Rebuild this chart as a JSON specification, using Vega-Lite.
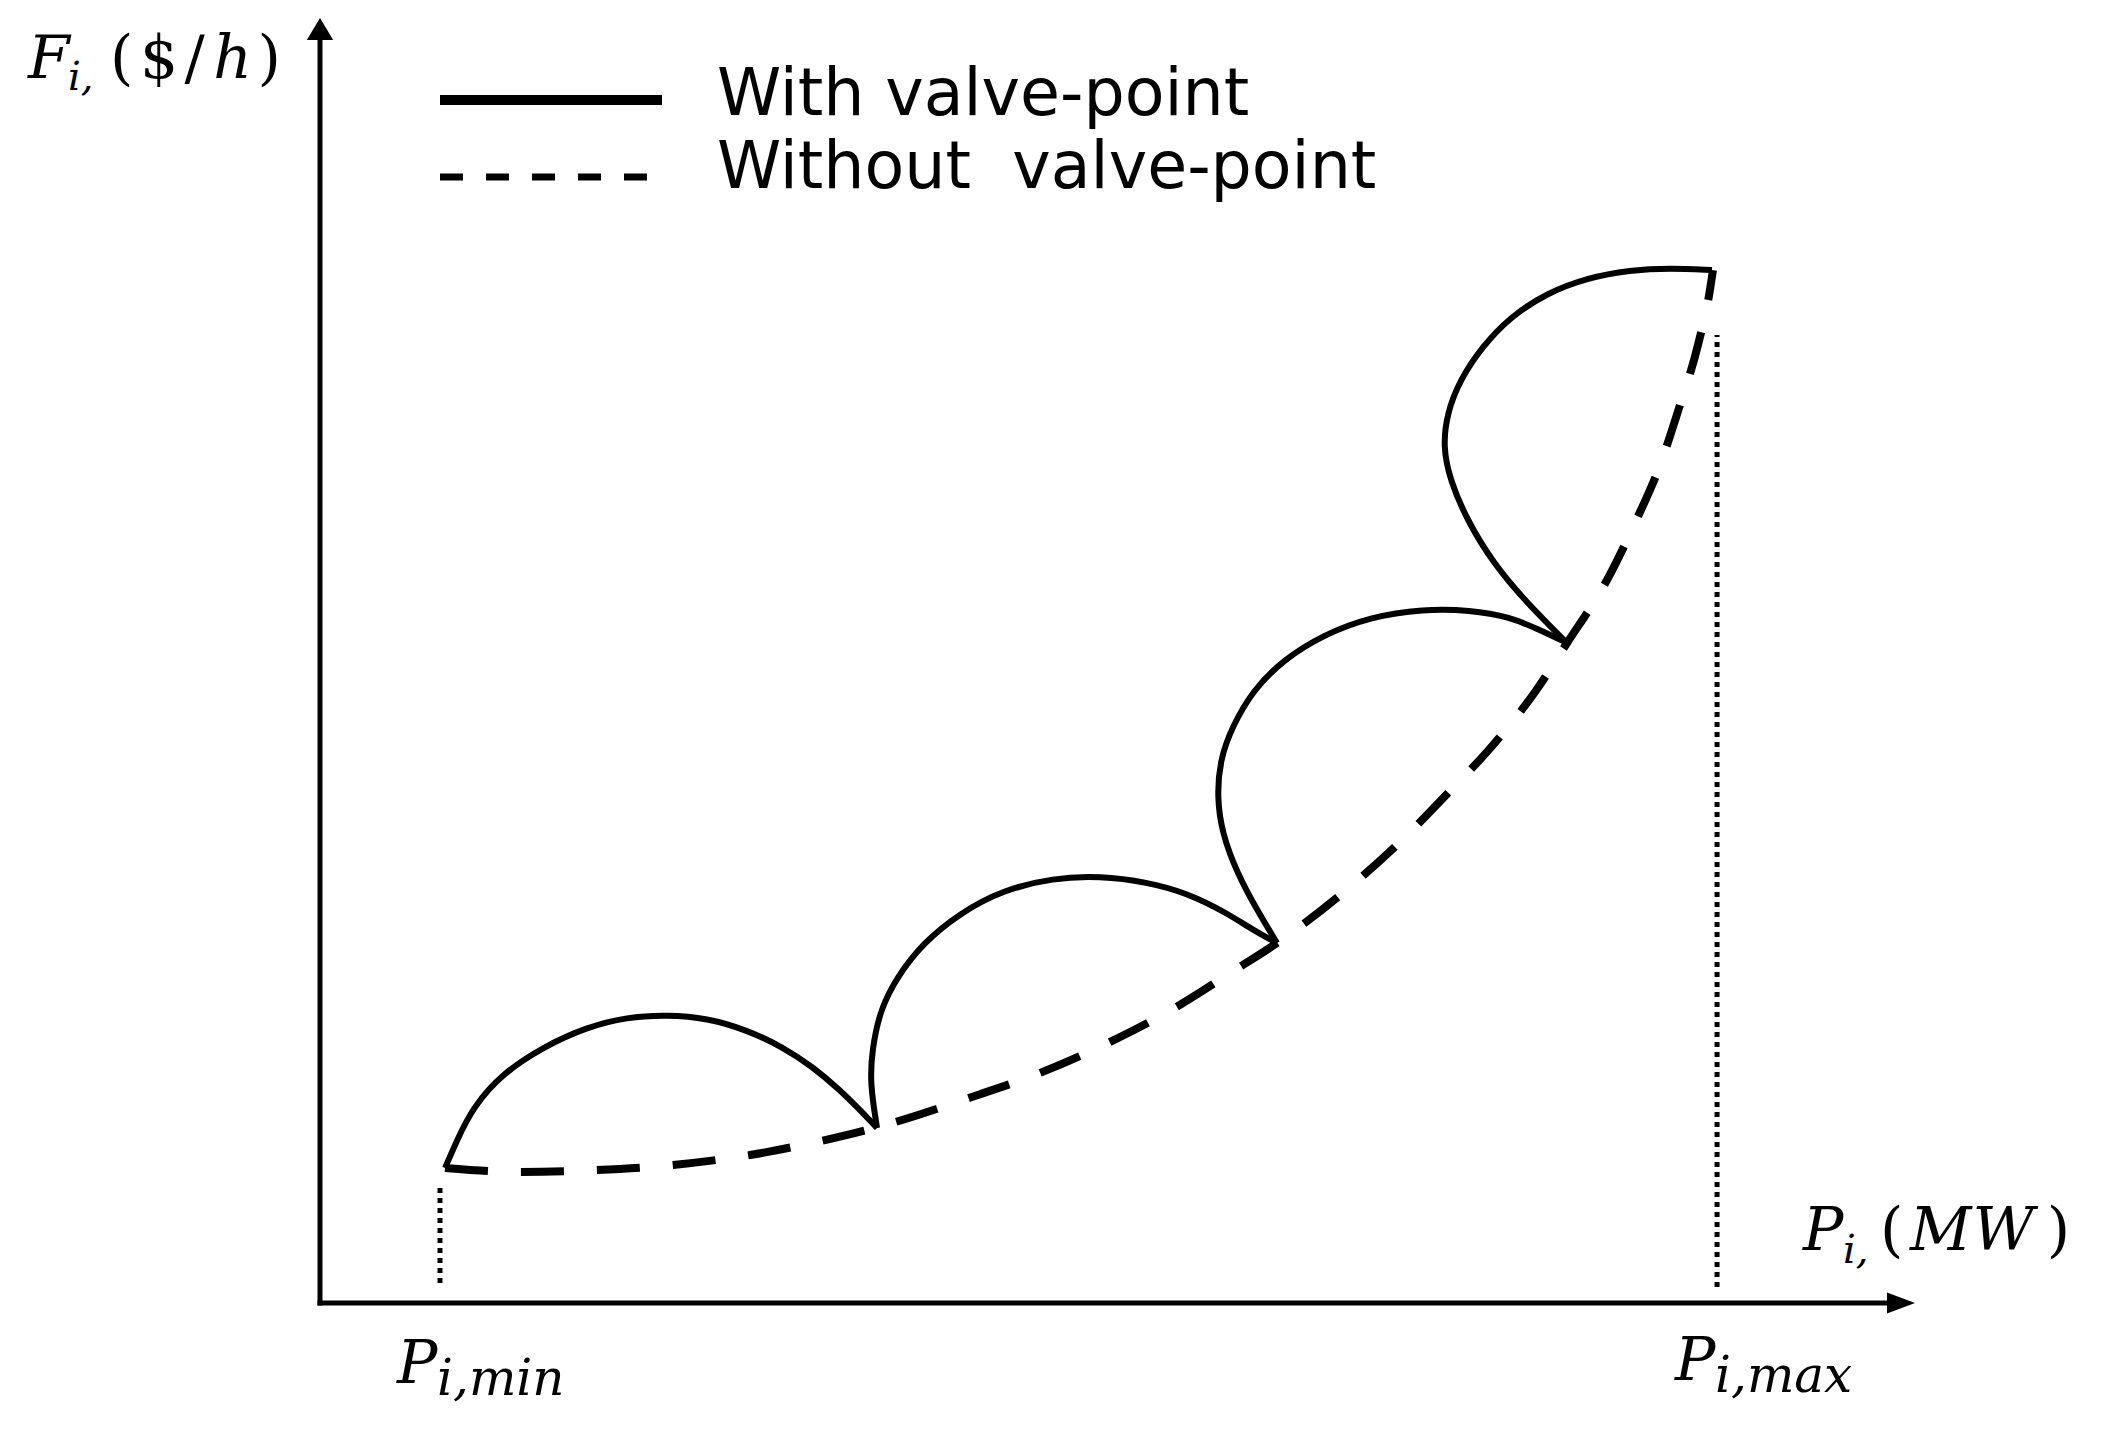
{
  "$schema": "https://vega.github.io/schema/vega-lite/v6.json",
  "width": 2106,
  "height": 1430,
  "padding": 0,
  "autosize": {"type": "fit", "contains": "padding"},
  "background": "white",
  "config": {"view": {"stroke": null}},
  "datasets": {
    "axes": [
      {"x": 0, "y": 0, "x2": 130.58, "y2": 0},
      {"x": 0, "y": 0, "x2": 0, "y2": 105.25}
    ],
    "arrowUp": [{"x": 0, "y": 106.17}],
    "arrowRight": [{"x": 131.75, "y": 0}],
    "limits": [
      {"x": 10.0, "y": 1.67, "y2": 9.83},
      {"x": 116.42, "y": 1.33, "y2": 80.67}
    ],
    "without": [
      {"x": 10.42, "y": 11.25}, {"x": 16.67, "y": 10.92}, {"x": 23.08, "y": 11.08},
      {"x": 29.42, "y": 11.5}, {"x": 35.83, "y": 12.33}, {"x": 42.08, "y": 13.58},
      {"x": 46.5, "y": 14.67}, {"x": 54.33, "y": 17.17}, {"x": 60.0, "y": 19.17},
      {"x": 65.67, "y": 21.67}, {"x": 71.08, "y": 24.5}, {"x": 76.25, "y": 27.75},
      {"x": 79.75, "y": 30.0}, {"x": 85.83, "y": 34.67}, {"x": 90.0, "y": 38.42},
      {"x": 94.0, "y": 42.5}, {"x": 97.75, "y": 46.5}, {"x": 101.25, "y": 50.92},
      {"x": 103.92, "y": 55.0}, {"x": 107.25, "y": 60.25}, {"x": 109.58, "y": 65.0},
      {"x": 111.67, "y": 69.83}, {"x": 113.33, "y": 74.83}, {"x": 114.83, "y": 79.83},
      {"x": 115.83, "y": 84.42}, {"x": 116.08, "y": 86.08}
    ],
    "with": [
      {"arc": 1, "i": 1, "x": 10.42, "y": 11.25}, {"arc": 1, "i": 2, "x": 11.42, "y": 13.58},
      {"arc": 1, "i": 3, "x": 12.75, "y": 16.33}, {"arc": 1, "i": 4, "x": 15.25, "y": 19.17},
      {"arc": 1, "i": 5, "x": 18.58, "y": 21.33}, {"arc": 1, "i": 6, "x": 22.25, "y": 23.0},
      {"arc": 1, "i": 7, "x": 25.58, "y": 23.83}, {"arc": 1, "i": 8, "x": 28.92, "y": 24.0},
      {"arc": 1, "i": 9, "x": 32.25, "y": 23.75}, {"arc": 1, "i": 10, "x": 35.58, "y": 22.75},
      {"arc": 1, "i": 11, "x": 38.58, "y": 21.33}, {"arc": 1, "i": 12, "x": 41.08, "y": 19.67},
      {"arc": 1, "i": 13, "x": 43.33, "y": 17.75}, {"arc": 1, "i": 14, "x": 45.0, "y": 16.08},
      {"arc": 1, "i": 15, "x": 46.42, "y": 14.58},
      {"arc": 2, "i": 1, "x": 46.42, "y": 14.58}, {"arc": 2, "i": 2, "x": 45.83, "y": 18.33},
      {"arc": 2, "i": 3, "x": 46.0, "y": 21.08}, {"arc": 2, "i": 4, "x": 46.67, "y": 24.42},
      {"arc": 2, "i": 5, "x": 48.08, "y": 27.17}, {"arc": 2, "i": 6, "x": 50.25, "y": 30.0},
      {"arc": 2, "i": 7, "x": 53.33, "y": 32.5}, {"arc": 2, "i": 8, "x": 56.92, "y": 34.42},
      {"arc": 2, "i": 9, "x": 61.08, "y": 35.42}, {"arc": 2, "i": 10, "x": 65.0, "y": 35.58},
      {"arc": 2, "i": 11, "x": 68.92, "y": 35.08}, {"arc": 2, "i": 12, "x": 72.25, "y": 34.17},
      {"arc": 2, "i": 13, "x": 75.58, "y": 32.5}, {"arc": 2, "i": 14, "x": 77.75, "y": 31.08},
      {"arc": 2, "i": 15, "x": 79.75, "y": 30.0},
      {"arc": 3, "i": 1, "x": 79.75, "y": 30.0}, {"arc": 3, "i": 2, "x": 78.08, "y": 32.75},
      {"arc": 3, "i": 3, "x": 76.42, "y": 35.83}, {"arc": 3, "i": 4, "x": 75.17, "y": 39.17},
      {"arc": 3, "i": 5, "x": 74.75, "y": 42.17}, {"arc": 3, "i": 6, "x": 75.0, "y": 45.25},
      {"arc": 3, "i": 7, "x": 76.0, "y": 48.0}, {"arc": 3, "i": 8, "x": 77.75, "y": 51.08},
      {"arc": 3, "i": 9, "x": 80.25, "y": 53.58}, {"arc": 3, "i": 10, "x": 83.58, "y": 55.67},
      {"arc": 3, "i": 11, "x": 87.5, "y": 57.17}, {"arc": 3, "i": 12, "x": 91.92, "y": 57.83},
      {"arc": 3, "i": 13, "x": 95.83, "y": 57.75}, {"arc": 3, "i": 14, "x": 99.17, "y": 57.17},
      {"arc": 3, "i": 15, "x": 101.67, "y": 56.08}, {"arc": 3, "i": 16, "x": 103.92, "y": 55.0},
      {"arc": 4, "i": 1, "x": 103.92, "y": 55.0}, {"arc": 4, "i": 2, "x": 100.58, "y": 58.33},
      {"arc": 4, "i": 3, "x": 97.75, "y": 61.67}, {"arc": 4, "i": 4, "x": 95.58, "y": 65.25},
      {"arc": 4, "i": 5, "x": 94.17, "y": 68.58}, {"arc": 4, "i": 6, "x": 93.58, "y": 71.33},
      {"arc": 4, "i": 7, "x": 93.92, "y": 74.17}, {"arc": 4, "i": 8, "x": 95.0, "y": 76.92},
      {"arc": 4, "i": 9, "x": 96.83, "y": 79.67}, {"arc": 4, "i": 10, "x": 99.17, "y": 82.17},
      {"arc": 4, "i": 11, "x": 102.25, "y": 84.17}, {"arc": 4, "i": 12, "x": 105.58, "y": 85.42},
      {"arc": 4, "i": 13, "x": 109.17, "y": 86.08}, {"arc": 4, "i": 14, "x": 112.5, "y": 86.25},
      {"arc": 4, "i": 15, "x": 116.0, "y": 86.08}
    ],
    "legendSolid": [{"x": 10.0, "x2": 28.5, "y": 100.25}],
    "legendDashed": [{"x": 10.0, "x2": 27.75, "y": 93.83}],
    "legendText": [
      {"x": 33.08, "y": 99.0, "t": "With valve-point"},
      {"x": 33.08, "y": 92.92, "t": "Without\u00a0 valve-point"}
    ],
    "mathItalic": [
      {"x": -24.33, "y": 102.08, "t": "F"},
      {"x": -8.9, "y": 102.08, "t": "h"},
      {"x": 6.42, "y": -6.67, "t": "P"},
      {"x": 112.92, "y": -6.42, "t": "P"},
      {"x": 123.58, "y": 4.42, "t": "P"},
      {"x": 132.5, "y": 4.42, "t": "M"},
      {"x": 137.7, "y": 4.42, "t": "W"}
    ],
    "mathUpright": [
      {"x": -17.5, "y": 102.08, "t": "("},
      {"x": -15.0, "y": 102.08, "t": "$"},
      {"x": -11.3, "y": 102.08, "t": "/"},
      {"x": -5.2, "y": 102.08, "t": ")"},
      {"x": 130.0, "y": 4.42, "t": "("},
      {"x": 143.9, "y": 4.42, "t": ")"}
    ],
    "subSmall": [
      {"x": -21.0, "y": 101.08, "t": "i,"},
      {"x": 126.92, "y": 3.33, "t": "i,"}
    ],
    "subLarge": [
      {"x": 9.75, "y": -7.67, "t": "i,min"},
      {"x": 116.25, "y": -7.42, "t": "i,max"}
    ]
  },
  "encoding": {
    "x": {"field": "x", "type": "quantitative", "scale": {"domain": [-26.6667, 148.8333], "nice": false, "zero": false}, "axis": null},
    "y": {"field": "y", "type": "quantitative", "scale": {"domain": [-10.5833, 108.5833], "nice": false, "zero": false}, "axis": null}
  },
  "layer": [
    {
      "data": {"name": "axes"},
      "mark": {"type": "rule", "color": "black", "strokeWidth": 5, "strokeCap": "square"},
      "encoding": {"x2": {"field": "x2"}, "y2": {"field": "y2"}}
    },
    {
      "data": {"name": "arrowUp"},
      "mark": {"type": "point", "filled": true, "color": "black", "opacity": 1, "strokeWidth": 0, "shape": "M0,-1L-1.2,1L1.2,1Z", "size": 484}
    },
    {
      "data": {"name": "arrowRight"},
      "mark": {"type": "point", "filled": true, "color": "black", "opacity": 1, "strokeWidth": 0, "shape": "M1,0L-1,-0.75L-1,0.75Z", "size": 784}
    },
    {
      "data": {"name": "limits"},
      "mark": {"type": "rule", "color": "black", "strokeWidth": 5, "strokeDash": [5, 5]},
      "encoding": {"y2": {"field": "y2"}}
    },
    {
      "data": {"name": "without"},
      "mark": {"type": "line", "color": "black", "strokeWidth": 8, "strokeDash": [43, 33], "interpolate": "monotone"},
      "encoding": {}
    },
    {
      "data": {"name": "with"},
      "mark": {"type": "line", "color": "black", "strokeWidth": 6, "interpolate": "basis", "strokeCap": "butt"},
      "encoding": {"detail": {"field": "arc"}, "order": {"field": "i"}}
    },
    {
      "data": {"name": "legendSolid"},
      "mark": {"type": "rule", "color": "black", "strokeWidth": 10},
      "encoding": {"x2": {"field": "x2"}}
    },
    {
      "data": {"name": "legendDashed"},
      "mark": {"type": "rule", "color": "black", "strokeWidth": 7, "strokeDash": [23, 23]},
      "encoding": {"x2": {"field": "x2"}}
    },
    {
      "data": {"name": "legendText"},
      "mark": {"type": "text", "align": "left", "baseline": "alphabetic", "font": "DejaVu Sans", "fontSize": 65, "color": "black"},
      "encoding": {"text": {"field": "t"}}
    },
    {
      "data": {"name": "mathItalic"},
      "mark": {"type": "text", "align": "left", "baseline": "alphabetic", "font": "DejaVu Serif", "fontStyle": "italic", "fontSize": 60, "color": "black"},
      "encoding": {"text": {"field": "t"}}
    },
    {
      "data": {"name": "mathUpright"},
      "mark": {"type": "text", "align": "left", "baseline": "alphabetic", "font": "DejaVu Serif", "fontSize": 60, "color": "black"},
      "encoding": {"text": {"field": "t"}}
    },
    {
      "data": {"name": "subSmall"},
      "mark": {"type": "text", "align": "left", "baseline": "alphabetic", "font": "DejaVu Serif", "fontStyle": "italic", "fontSize": 40, "color": "black"},
      "encoding": {"text": {"field": "t"}}
    },
    {
      "data": {"name": "subLarge"},
      "mark": {"type": "text", "align": "left", "baseline": "alphabetic", "font": "DejaVu Serif", "fontStyle": "italic", "fontSize": 50, "color": "black"},
      "encoding": {"text": {"field": "t"}}
    }
  ]
}
